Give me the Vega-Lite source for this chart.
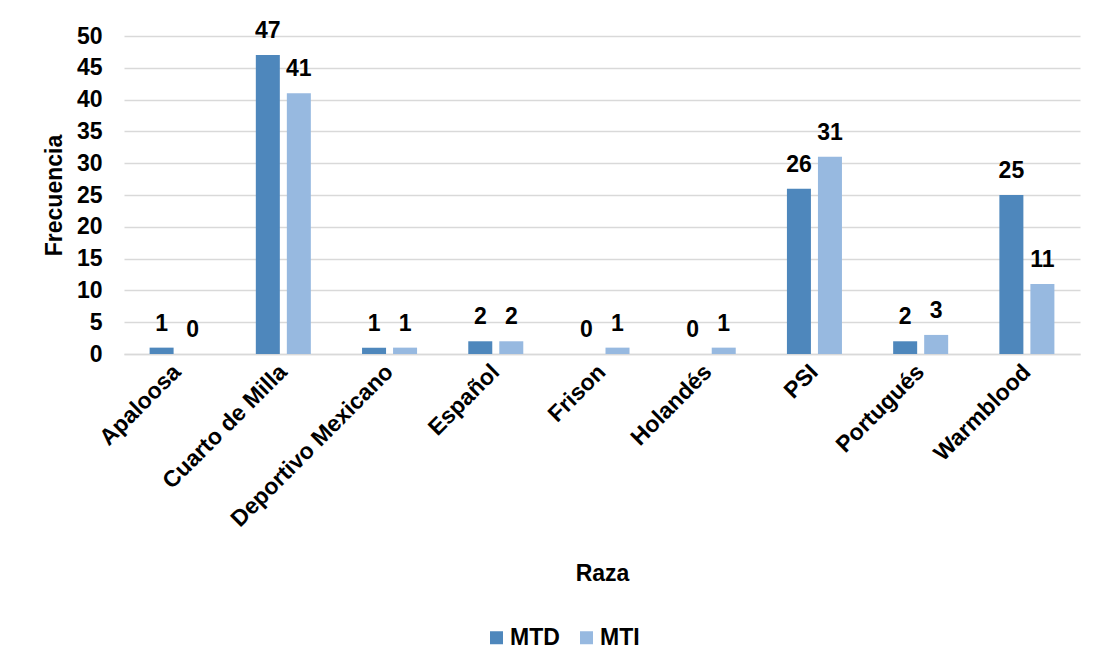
{
  "$schema": "https://vega.github.io/schema/vega-lite/v6.json",
  "width": 956,
  "height": 318,
  "autosize": {"type": "none"},
  "padding": {"left": 124, "top": 36, "right": 23, "bottom": 315},
  "background": "white",
  "config": {
    "font": "Liberation Sans",
    "view": {"stroke": null},
    "axis": {"labelFont": "Liberation Sans", "titleFont": "Liberation Sans"}
  },
  "data": {
    "values": [
      {"raza": "Apaloosa", "grupo": "MTD", "frecuencia": 1},
      {"raza": "Apaloosa", "grupo": "MTI", "frecuencia": 0},
      {"raza": "Cuarto de Milla", "grupo": "MTD", "frecuencia": 47},
      {"raza": "Cuarto de Milla", "grupo": "MTI", "frecuencia": 41},
      {"raza": "Deportivo Mexicano", "grupo": "MTD", "frecuencia": 1},
      {"raza": "Deportivo Mexicano", "grupo": "MTI", "frecuencia": 1},
      {"raza": "Español", "grupo": "MTD", "frecuencia": 2},
      {"raza": "Español", "grupo": "MTI", "frecuencia": 2},
      {"raza": "Frison", "grupo": "MTD", "frecuencia": 0},
      {"raza": "Frison", "grupo": "MTI", "frecuencia": 1},
      {"raza": "Holandés", "grupo": "MTD", "frecuencia": 0},
      {"raza": "Holandés", "grupo": "MTI", "frecuencia": 1},
      {"raza": "PSI", "grupo": "MTD", "frecuencia": 26},
      {"raza": "PSI", "grupo": "MTI", "frecuencia": 31},
      {"raza": "Portugués", "grupo": "MTD", "frecuencia": 2},
      {"raza": "Portugués", "grupo": "MTI", "frecuencia": 3},
      {"raza": "Warmblood", "grupo": "MTD", "frecuencia": 25},
      {"raza": "Warmblood", "grupo": "MTI", "frecuencia": 11}
    ]
  },
  "encoding": {
    "x": {
      "field": "raza",
      "type": "nominal",
      "sort": null,
      "scale": {"paddingInner": 0.482, "paddingOuter": 0.241},
      "axis": {
        "title": "Raza",
        "titleFontSize": 23,
        "titleFontWeight": "bold",
        "titleColor": "black",
        "titleY": 219,
        "titleBaseline": "middle",
        "labelAngle": -45,
        "labelAlign": "right",
        "labelBaseline": "middle",
        "labelFontSize": 23,
        "labelFontWeight": "bold",
        "labelColor": "black",
        "labelPadding": 14,
        "labelLimit": 400,
        "labelOverlap": false,
        "ticks": false,
        "domainColor": "#d9d9d9",
        "domainWidth": 1.5
      }
    },
    "xOffset": {
      "field": "grupo",
      "type": "nominal",
      "scale": {"paddingInner": 0.226, "paddingOuter": 0}
    },
    "y": {
      "field": "frecuencia",
      "type": "quantitative",
      "scale": {"domain": [0, 50], "nice": false},
      "axis": {
        "title": "Frecuencia",
        "titleFontSize": 23,
        "titleFontWeight": "bold",
        "titleColor": "black",
        "titleX": -70,
        "titleY": 159,
        "titleAlign": "center",
        "titleBaseline": "middle",
        "values": [0, 5, 10, 15, 20, 25, 30, 35, 40, 45, 50],
        "labelFontSize": 23,
        "labelFontWeight": "bold",
        "labelColor": "black",
        "labelPadding": 22,
        "ticks": false,
        "domain": false,
        "gridColor": "#d9d9d9",
        "gridWidth": 1.5
      }
    }
  },
  "layer": [
    {
      "mark": {"type": "bar"},
      "encoding": {
        "color": {
          "field": "grupo",
          "type": "nominal",
          "scale": {"domain": ["MTD", "MTI"], "range": ["#4e87bc", "#97b9e0"]},
          "legend": {
            "title": null,
            "orient": "none",
            "direction": "horizontal",
            "legendX": 361,
            "legendY": 590,
            "symbolType": "square",
            "symbolSize": 169,
            "symbolStrokeWidth": 0,
            "labelFontSize": 23,
            "labelFontWeight": "bold",
            "labelColor": "black",
            "labelOffset": 2,
            "columnPadding": 15
          }
        }
      }
    },
    {
      "mark": {
        "type": "text",
        "fontSize": 23,
        "fontWeight": "bold",
        "color": "black",
        "baseline": "alphabetic",
        "dy": -17
      },
      "encoding": {
        "text": {"field": "frecuencia", "type": "quantitative"}
      }
    }
  ]
}
